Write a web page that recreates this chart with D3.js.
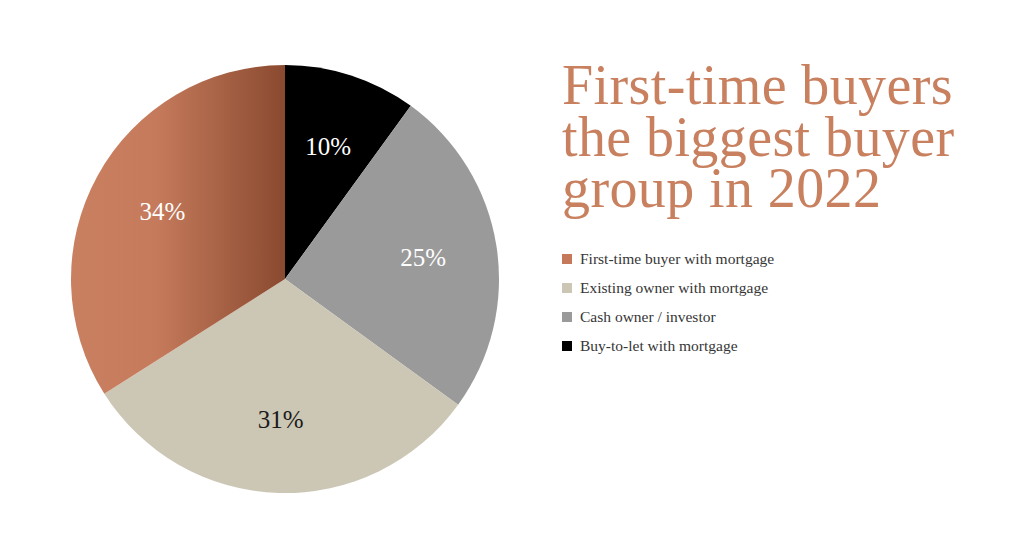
<!DOCTYPE html>
<html>
<head>
<meta charset="utf-8">
<script src="https://cdn.jsdelivr.net/npm/d3@7"></script>
<style>
  body { margin: 0; background: #fff; }
  svg { display: block; }
</style>
</head>
<body>
<svg width="1024" height="558"></svg>
<script>
// Data
const categories = ["Buy-to-let with mortgage", "Cash owner / investor", "Existing owner with mortgage", "First-time buyer with mortgage"];
const shares = [10, 25, 31, 34];
const sliceColors = ["#000000", "#9a9a9a", "#ccc6b4", "url(#copper)"];
const labelColors = ["#ffffff", "#ffffff", "#1a1a1a", "#ffffff"];
const legendOrder = ["First-time buyer with mortgage", "Existing owner with mortgage", "Cash owner / investor", "Buy-to-let with mortgage"];
const legendColors = ["#c5785a", "#ccc6b4", "#9a9a9a", "#000000"];
const titleLines = ["First-time buyers", "the biggest buyer", "group in 2022"];

const svg = d3.select("svg");
const cx = 285, cy = 279, radius = 214;

// Copper gradient (coordinates relative to pie centre)
const defs = svg.append("defs");
const grad = defs.append("linearGradient")
  .attr("id", "copper")
  .attr("gradientUnits", "userSpaceOnUse")
  .attr("x1", -radius).attr("x2", 0)
  .attr("y1", 0).attr("y2", 0);
grad.append("stop").attr("offset", "0%").attr("stop-color", "#c98061");
grad.append("stop").attr("offset", "40%").attr("stop-color", "#c57a5b");
grad.append("stop").attr("offset", "100%").attr("stop-color", "#8a4a30");

const pie = d3.pie().sort(null).value(d => d)(shares);
const arc = d3.arc().innerRadius(0).outerRadius(radius);
const labelArc = d3.arc().innerRadius(140).outerRadius(140);

const g = svg.append("g").attr("transform", `translate(${cx},${cy})`);

g.selectAll("path")
  .data(pie)
  .enter()
  .append("path")
  .attr("d", arc)
  .attr("fill", (d, i) => sliceColors[i]);

g.selectAll("text.pct")
  .data(pie)
  .enter()
  .append("text")
  .attr("class", "pct")
  .attr("transform", d => `translate(${labelArc.centroid(d)})`)
  .attr("text-anchor", "middle")
  .attr("dy", "0.35em")
  .attr("fill", (d, i) => labelColors[i])
  .style("font-family", "'Liberation Serif', serif")
  .style("font-size", "25px")
  .text(d => d.data + "%");

// Title
svg.selectAll("text.title")
  .data(titleLines)
  .enter()
  .append("text")
  .attr("class", "title")
  .attr("x", 562)
  .attr("y", (d, i) => 104 + i * 51.5)
  .attr("fill", "#c8805f")
  .style("font-family", "'Liberation Serif', serif")
  .style("font-size", "56px")
  .style("letter-spacing", "0.4px")
  .text(d => d);

// Legend
const legend = svg.append("g").attr("transform", "translate(562,259)");
const rows = legend.selectAll("g")
  .data(legendOrder)
  .enter()
  .append("g")
  .attr("transform", (d, i) => `translate(0,${i * 29})`);

rows.append("rect")
  .attr("x", 0).attr("y", -5)
  .attr("width", 10).attr("height", 10)
  .attr("fill", (d, i) => legendColors[i]);

rows.append("text")
  .attr("x", 18)
  .attr("dy", "0.35em")
  .attr("fill", "#363636")
  .style("font-family", "'Liberation Serif', serif")
  .style("font-size", "15.5px")
  .text(d => d);
</script>
</body>
</html>
